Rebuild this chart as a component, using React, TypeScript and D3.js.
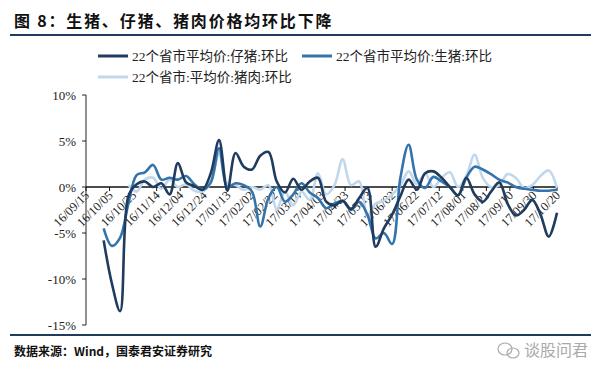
import React, { useEffect, useRef } from 'react';
import * as d3 from 'd3';

// weekly series, first point 16/09/30, last 17/10/20
const startDate = '16/09/30';
const endDate = '17/10/20';

const piglet = [
  -5.8, -10.5, -13.5, -1.0, 0.3, 0.6, 0.0, 0.4, -0.8, 2.6,
  0.5, 0.1, -0.3, 1.5, 5.1, -0.4, 3.7, 2.2, 1.9, 3.4,
  3.8, 0.6, -0.6, 0.9, -0.3, 0.6, 1.0, -1.6, -2.0, -1.5,
  -2.4, -1.2, -0.1, -6.5, -4.5, -3.0, -1.0, 0.8, -0.3, 1.5,
  1.7, 1.0, 0.0, -0.9, 1.0, -0.8, -1.6, -0.5, 0.5, -1.8,
  -3.1, -2.5, -1.4, -3.0, -5.4, -2.8,
];

const hog = [
  -4.5, -6.4, -5.5, -1.8, 1.3, 1.6, 2.4, 0.8, 1.0, 0.8,
  1.2, 0.3, -0.3, 0.5, 4.2, 0.0, 0.4, 0.2, -0.5, -4.3,
  -1.2, 0.0, -1.6, -0.8, 0.4, -0.6, -1.2, -2.3, -1.8, -1.5,
  -2.5, -1.6, -3.0, -5.6, -5.0, -6.2, 1.0, 4.6, 0.8, -0.1,
  1.1, 0.6, 0.0, -0.9, 1.0, 2.2, 1.9, 1.4, 0.8, 0.5,
  0.0, -0.2, -0.3, -0.4, -0.4, -0.3,
];

const pork = [
  null, null, null, 0.2, -0.5, 0.8, 1.0, -0.2, 0.8, 0.0,
  0.3, -0.4, -0.5, 0.5, 3.6, 0.4, 0.2, -0.3, 0.0, -0.3,
  0.2, -2.4, -0.5, -2.0, -0.5, -1.4, 1.5, -0.8, 0.2, 3.0,
  0.2, 0.6, -3.2, -1.8, -1.5, -0.8, 0.2, 1.7, 0.3, 1.5,
  0.0, 1.0, 1.6, 0.0, 1.2, 3.5, 1.0, 0.0, 0.2, 1.4,
  1.0, -0.1, 0.2, 1.2, 1.8, -0.1,
];

const tickLabels = [
  '16/09/15', '16/10/05', '16/10/25', '16/11/14', '16/12/04', '16/12/24',
  '17/01/13', '17/02/02', '17/02/22', '17/03/14', '17/04/03', '17/04/23',
  '17/05/13', '17/06/02', '17/06/22', '17/07/12', '17/08/01', '17/08/21',
  '17/09/10', '17/09/30', '17/10/20',
];

const yTicks = [10, 5, 0, -5, -10, -15];

const seriesNames = [
  '22个省市平均价:仔猪:环比',
  '22个省市平均价:生猪:环比',
  '22个省市:平均价:猪肉:环比',
];
const colors = ['#1f3b5e', '#3474ad', '#c0d7ec'];

const serif = '"Liberation Serif", "Times New Roman", "Noto Sans CJK SC", serif';
const cjk = '"Noto Sans CJK SC", sans-serif';

const App: React.FC = () => {
  const svgRef = useRef<SVGSVGElement>(null);

  useEffect(() => {
    if (!svgRef.current) return;
    const svg = d3.select(svgRef.current);
    svg.selectAll('*').remove();

    const parse = d3.timeParse('%y/%m/%d');
    const dates = d3.timeDay.range(parse(startDate)!, d3.timeDay.offset(parse(endDate)!, 1), 7);

    const x = d3.scaleTime()
      .domain([parse(tickLabels[0])!, parse(tickLabels[tickLabels.length - 1])!])
      .range([86, 557]);
    const y = d3.scaleLinear().domain([-15, 10]).range([325, 95]);

    svg.append('rect').attr('width', 600).attr('height', 372).attr('fill', '#fff');

    // title
    svg.append('text')
      .attr('x', 14).attr('y', 27)
      .attr('font-family', cjk).attr('font-weight', 700).attr('font-size', 16)
      .attr('letter-spacing', 1.8)
      .attr('fill', '#111')
      .text('图 8：生猪、仔猪、猪肉价格均环比下降');
    svg.append('line')
      .attr('x1', 10).attr('x2', 591).attr('y1', 35).attr('y2', 35)
      .attr('stroke', '#1f3b5e').attr('stroke-width', 2);

    // legend
    const legendPos = [[98, 56], [302, 56], [98, 77]];
    legendPos.forEach(([lx, ly], i) => {
      svg.append('line')
        .attr('x1', lx).attr('x2', lx + 30).attr('y1', ly).attr('y2', ly)
        .attr('stroke', colors[i]).attr('stroke-width', 3);
      svg.append('text')
        .attr('x', lx + 34).attr('y', ly + 5)
        .attr('font-family', serif).attr('font-size', 13.5)
        .attr('fill', '#222')
        .text(seriesNames[i]);
    });

    // y axis
    svg.append('line')
      .attr('x1', 86).attr('x2', 86).attr('y1', y(10)).attr('y2', y(-15))
      .attr('stroke', '#222').attr('stroke-width', 1);
    const yg = svg.selectAll('.ytick').data(yTicks).enter().append('g');
    yg.append('line')
      .attr('x1', 82).attr('x2', 86)
      .attr('y1', d => y(d)).attr('y2', d => y(d))
      .attr('stroke', '#222');
    yg.append('text')
      .attr('x', 76).attr('y', d => y(d) + 4.5)
      .attr('text-anchor', 'end')
      .attr('font-family', serif).attr('font-size', 13)
      .attr('fill', '#222')
      .text(d => `${d}%`);

    // zero line with ticks
    svg.append('line')
      .attr('x1', 86).attr('x2', 558).attr('y1', y(0)).attr('y2', y(0))
      .attr('stroke', '#111').attr('stroke-width', 1.3);
    const xg = svg.selectAll('.xtick').data(tickLabels).enter().append('g')
      .attr('transform', d => `translate(${x(parse(d)!)},${y(0)})`);
    xg.append('line').attr('y1', 0).attr('y2', 4).attr('stroke', '#111');

    // series
    const all = [piglet, hog, pork];
    const line = d3.line<number | null>()
      .defined(d => d !== null)
      .x((_, i) => x(dates[i]))
      .y(d => y(d as number))
      .curve(d3.curveCatmullRom.alpha(0.5));
    [2, 1, 0].forEach(k => {
      svg.append('path')
        .attr('d', line(all[k])!)
        .attr('fill', 'none')
        .attr('stroke', colors[k])
        .attr('stroke-width', 2.6)
        .attr('stroke-linejoin', 'round');
    });

    // x labels drawn over the lines
    xg.append('text')
      .attr('transform', 'translate(4,9) rotate(-45)')
      .attr('text-anchor', 'end')
      .attr('font-family', serif).attr('font-size', 12.5)
      .attr('fill', '#222')
      .text(d => d);

    // footer
    svg.append('line')
      .attr('x1', 10).attr('x2', 591).attr('y1', 335).attr('y2', 335)
      .attr('stroke', '#1f3b5e').attr('stroke-width', 2);
    svg.append('text')
      .attr('x', 14).attr('y', 356)
      .attr('font-family', cjk).attr('font-weight', 700).attr('font-size', 12)
      .attr('fill', '#111')
      .text('数据来源：Wind，国泰君安证券研究');

    // watermark
    const wm = svg.append('g').attr('fill', 'none').attr('stroke', '#aaa').attr('stroke-width', 1.2);
    wm.append('ellipse').attr('cx', 505).attr('cy', 349).attr('rx', 7).attr('ry', 6);
    wm.append('ellipse').attr('cx', 513).attr('cy', 353).attr('rx', 6).attr('ry', 5);
    svg.append('text')
      .attr('x', 524).attr('y', 356)
      .attr('font-family', cjk).attr('font-size', 16)
      .attr('fill', '#aaa')
      .text('谈股问君');
  }, []);

  return (
    <svg
      ref={svgRef}
      width={600}
      height={372}
      viewBox="0 0 600 372"
      style={{ position: 'absolute', left: 0, top: 0, display: 'block' }}
    />
  );
};

export default App;
